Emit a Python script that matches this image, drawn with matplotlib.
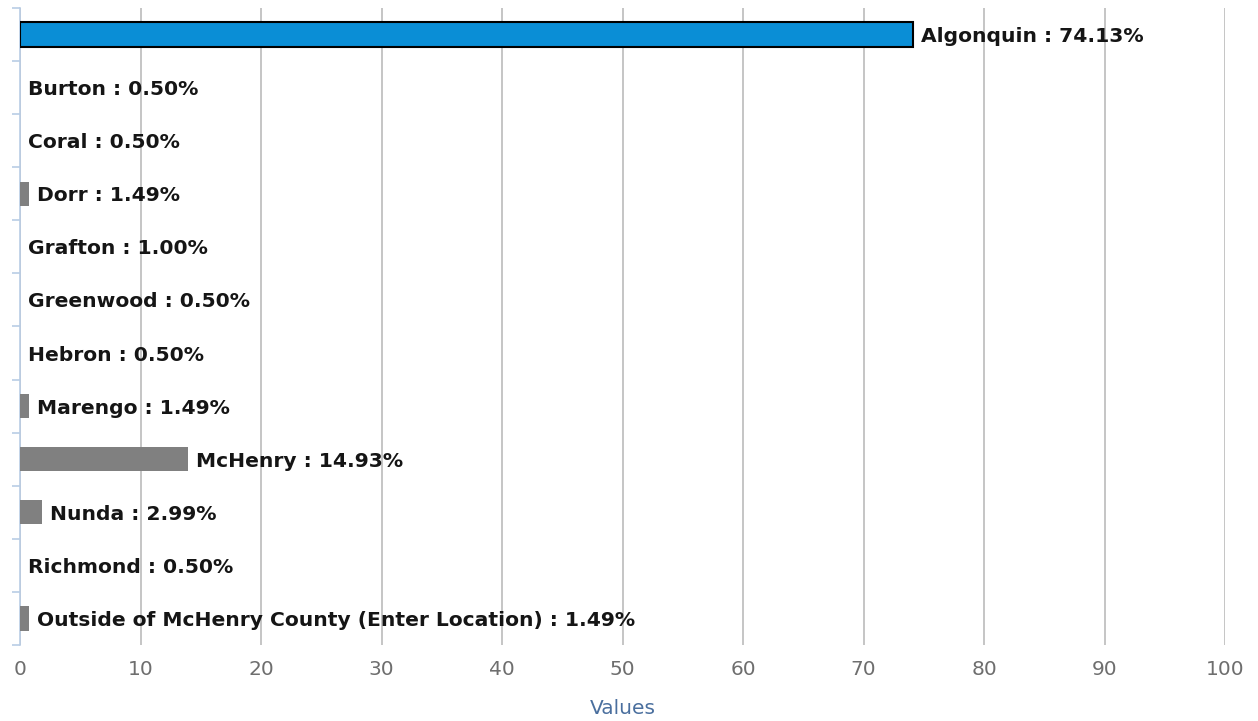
import matplotlib
matplotlib.use("Agg")
from matplotlib import pyplot as plt
import numpy as np

categories = ["Algonquin", "Burton", "Coral", "Dorr", "Grafton", "Greenwood",
              "Hebron", "Marengo", "McHenry", "Nunda", "Richmond",
              "Outside of McHenry County (Enter Location)"]
percents = [74.13, 0.50, 0.50, 1.49, 1.00, 0.50, 0.50, 1.49, 14.93, 2.99, 0.50, 1.49]
# bar lengths as they appear in the picture
bar_lengths = [74.13, 0.0, 0.0, 0.75, 0.0, 0.0, 0.0, 0.75, 13.9, 1.85, 0.0, 0.75]
x_ticks = [0, 10, 20, 30, 40, 50, 60, 70, 80, 90, 100]

fig = plt.figure(figsize=(12.58, 7.21), dpi=100)
ax = fig.add_axes([0.0159, 0.1054, 0.9579, 0.8836])

y = np.arange(len(categories))
colors = ["#0a8ed6"] + ["#808080"] * (len(categories) - 1)
edges = ["#000000"] + ["none"] * (len(categories) - 1)
lws = [1.5] + [0] * (len(categories) - 1)
ax.barh(y, bar_lengths, height=0.46, color=colors, edgecolor=edges,
        linewidth=lws, zorder=3)

for yi, name, p, b in zip(y, categories, percents, bar_lengths):
    ax.annotate(f"{name} : {p:.2f}%", xy=(b, yi), xytext=(8, -2),
                textcoords="offset pixels", va="center", ha="left",
                fontsize=14.6, fontweight="bold", color="#151515", zorder=4)

ax.set_xlim(0, 100)
ax.set_ylim(len(categories) - 0.5, -0.5)
ax.set_xticks(x_ticks)
ax.set_xticklabels([str(t) for t in x_ticks], fontsize=14.5, color="#6e6e6e")
ax.tick_params(axis="x", length=0, pad=11)
ax.set_yticks(np.arange(len(categories) + 1) - 0.5)
ax.set_yticklabels([])
ax.tick_params(axis="y", direction="out", length=6, width=1.2, color="#b9cde5")
ax.grid(axis="x", color="#c0c0c0", linewidth=1.3, zorder=0)

for s in ["top", "right", "bottom"]:
    ax.spines[s].set_visible(False)
ax.spines["left"].set_color("#b9cde5")
ax.spines["left"].set_linewidth(1.2)

ax.set_xlabel("Values", fontsize=14.5, color="#4a6f9e", labelpad=14)

fig.savefig("out.png", dpi=100)
